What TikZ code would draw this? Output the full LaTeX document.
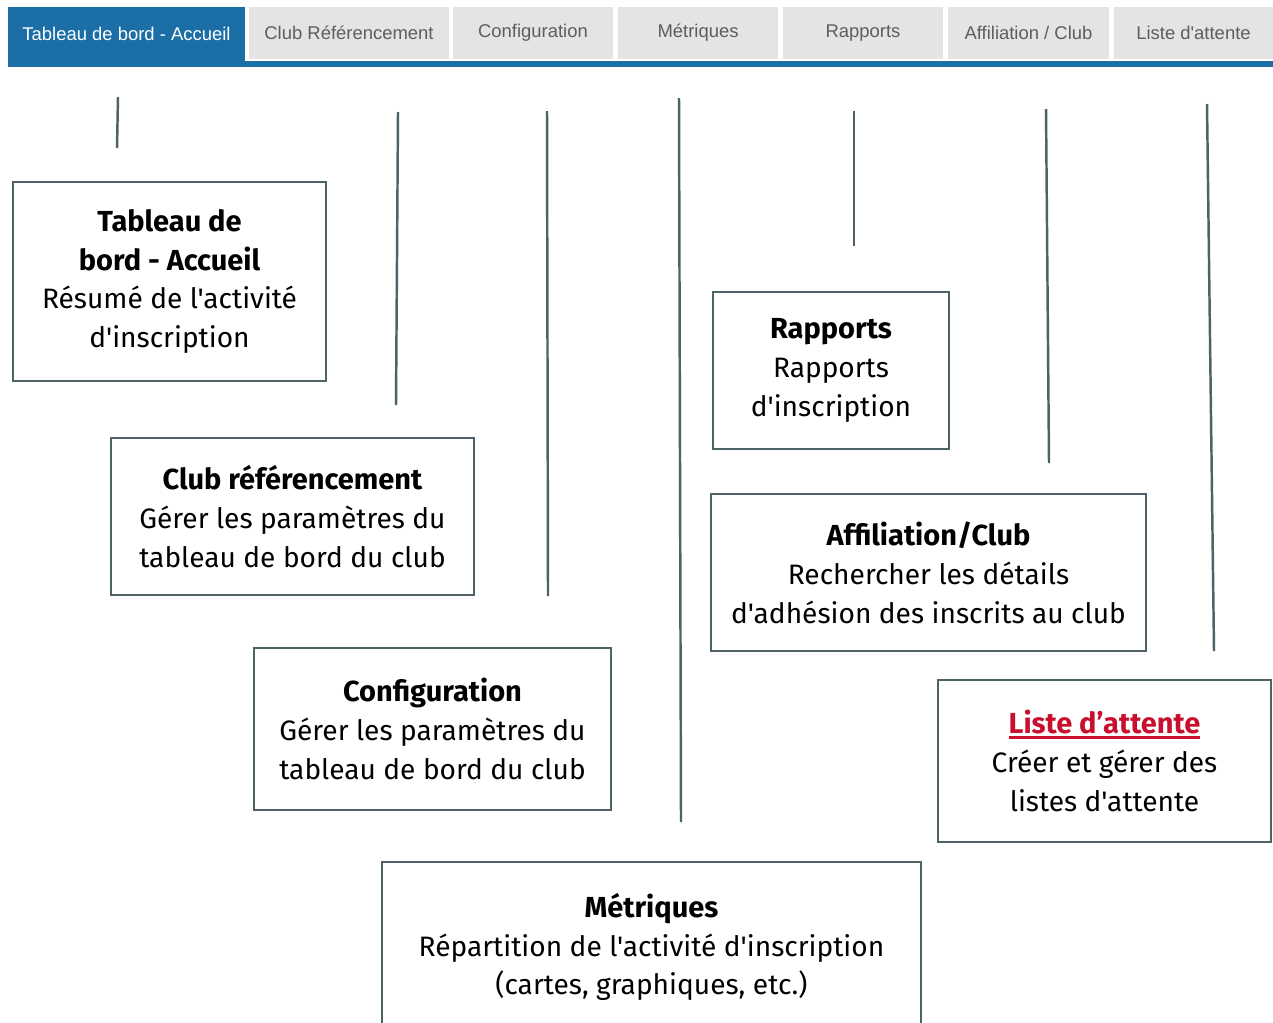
\documentclass[tikz,border=0pt]{standalone}
\usepackage{fontspec}
\setmainfont{Fira Sans}[Ligatures=TeXOff]
\newfontfamily\ongletfont{Liberation Sans}
\definecolor{bleuonglet}{HTML}{1B6EA6}
\definecolor{grisonglet}{HTML}{E4E4E4}
\definecolor{texteonglet}{HTML}{5E5E5E}
\definecolor{ardoise}{HTML}{4E6368}
\definecolor{rougeliste}{HTML}{C8102E}
\newcommand{\souligne}[1]{\setbox0\hbox{#1}\rlap{\rule[-3pt]{\wd0}{1.5pt}}\box0}
\newcommand{\titreboite}[1]{{\fontsize{16.5}{22.1}\selectfont\bfseries #1}}
\tikzset{
  onglet/.style={fill=grisonglet, text=texteonglet, inner sep=0pt, minimum height=1.04cm,
    font=\ongletfont\fontsize{10.5}{12}\selectfont},
  boite/.style={draw=ardoise, line width=1.4pt, align=center, inner sep=0pt,
    font=\fontsize{16}{22.1}\selectfont},
  trait/.style={draw=ardoise, line width=1.4pt},
}
\begin{document}
\begin{tikzpicture}[x=0.02cm, y=-0.02cm]
    \useasboundingbox[fill=white] (0,0) rectangle (1273,1022);
    % barre d'onglets
    \fill[bleuonglet] (8,61) rectangle (1273,67);
    \node (ongletAccueil) at (126.5,34) [onglet, fill=bleuonglet, text=white, minimum width=4.74cm, minimum height=1.08cm] {Tableau de bord - Accueil};
    \node (ongletClub) at (349,33) [onglet, minimum width=4cm] {Club Référencement};
    \node (ongletConfig) at (533,33) [onglet, minimum width=3.2cm] {Configuration};
    \node (ongletMetriques) at (698,33) [onglet, minimum width=3.2cm] {Métriques};
    \node (ongletRapports) at (863,33) [onglet, minimum width=3.2cm] {Rapports};
    \node (ongletAffil) at (1028.5,33) [onglet, minimum width=3.22cm] {Affiliation / Club};
    \node (ongletListe) at (1193.5,33) [onglet, minimum width=3.18cm] {Liste d'attente};
    % boites
    \node (accueil) at (169.5,281.5) [boite, minimum width=6.26cm, minimum height=3.98cm] {\titreboite{Tableau de}\\\titreboite{bord - Accueil}\\Résumé de l'activité\\d'inscription};
    \node (club) at (292.5,516.5) [boite, minimum width=7.26cm, minimum height=3.14cm] {\titreboite{Club référencement}\\Gérer les paramètres du\\tableau de bord du club};
    \node (config) at (432.5,729) [boite, minimum width=7.14cm, minimum height=3.24cm] {\titreboite{Configuration}\\Gérer les paramètres du\\tableau de bord du club};
    \node (metriques) at (651.5,947) [boite, minimum width=10.78cm, minimum height=3.4cm] {\titreboite{Métriques}\\Répartition de l'activité d'inscription\\(cartes, graphiques, etc.)};
    \node (rapports) at (831,370.5) [boite, minimum width=4.72cm, minimum height=3.14cm] {\titreboite{Rapports}\\Rapports\\d'inscription};
    \node (affil) at (928.5,572.5) [boite, minimum width=8.7cm, minimum height=3.14cm] {\titreboite{Affiliation/Club}\\Rechercher les détails\\d'adhésion des inscrits au club};
    \node (liste) at (1104.5,761) [boite, minimum width=6.66cm, minimum height=3.24cm] {\titreboite{\color{rougeliste}\souligne{Liste d’attente}}\\Créer et gérer des\\listes d'attente};
    % traits verticaux
    \coordinate (t1a) at (118,97);   \coordinate (t1b) at (117,148);
    \coordinate (t2a) at (398,112);  \coordinate (t2b) at (396,405);
    \coordinate (t3a) at (547,111);  \coordinate (t3b) at (548,596);
    \coordinate (t4a) at (679,98);   \coordinate (t4b) at (681,822);
    \coordinate (t5a) at (854,111);  \coordinate (t5b) at (854,246);
    \coordinate (t6a) at (1046,109); \coordinate (t6b) at (1049,463);
    \coordinate (t7a) at (1207,104); \coordinate (t7b) at (1214,651);
    \draw[trait] (t1a) -- (t1b);
    \draw[trait] (t2a) -- (t2b);
    \draw[trait] (t3a) -- (t3b);
    \draw[trait] (t4a) -- (t4b);
    \draw[trait] (t5a) -- (t5b);
    \draw[trait] (t6a) -- (t6b);
    \draw[trait] (t7a) -- (t7b);
\end{tikzpicture}
\end{document}
